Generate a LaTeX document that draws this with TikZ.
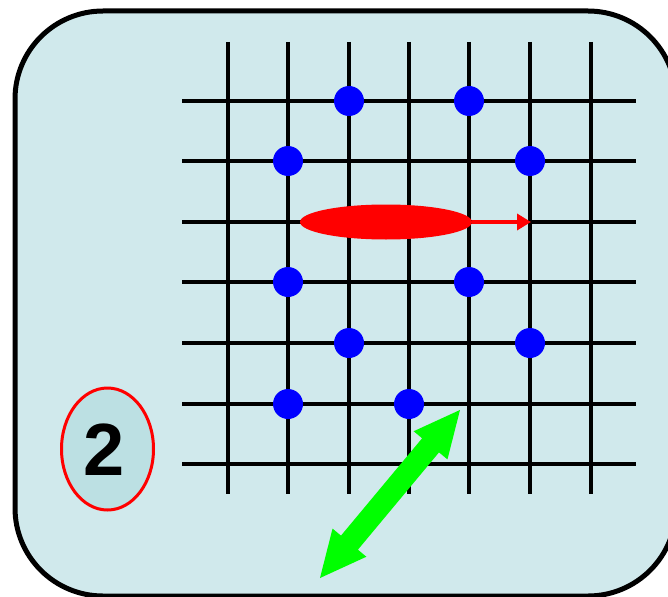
\documentclass[tikz,border=0pt]{standalone}
\usepackage{fontspec}
\setmainfont{Liberation Sans}
\usetikzlibrary{arrows.meta,shapes.geometric,calc}
\definecolor{panelbg}{HTML}{D0E9EC}
\definecolor{ovalbg}{HTML}{BCE0E3}
\definecolor{dotblue}{HTML}{0000FF}
\definecolor{arrgreen}{HTML}{00FF00}
\tikzset{
  gridline/.style={line width=3.2pt, black},
  dot/.style={circle, fill=dotblue, inner sep=0pt, minimum size=30pt},
  panel/.style={draw=black, line width=5pt, fill=panelbg, rounded corners=88pt},
}
\begin{document}
\begin{tikzpicture}[x=1pt,y=-1pt]
\path[use as bounding box, clip] (0,0) rectangle (668,596);
\fill[white] (0,0) rectangle (668,596);
% panel
\path[panel] (15,11) rectangle (676,596);
% grid
\foreach \i/\x in {0/228,1/288,2/349,3/409,4/469,5/530,6/591}{
  \draw[gridline] (\x,42) -- (\x,494);
}
\foreach \j/\y in {0/101,1/161,2/222,3/282,4/343,5/404,6/464}{
  \draw[gridline] (182,\y) -- (636,\y);
}
% blue dots
\node[dot] (d1) at (349,101) {};
\node[dot] (d2) at (469,101) {};
\node[dot] (d3) at (288,161) {};
\node[dot] (d4) at (530,161) {};
\node[dot] (d5) at (288,282) {};
\node[dot] (d6) at (469,282) {};
\node[dot] (d7) at (349,343) {};
\node[dot] (d8) at (530,343) {};
\node[dot] (d9) at (288,404) {};
\node[dot] (d10) at (409,404) {};
% red ellipse and arrow
\node[ellipse, fill=red, inner sep=0pt, minimum width=172pt, minimum height=35pt] (redov) at (386,222) {};
\coordinate (rtip) at (531,222);
\draw[red, line width=3.5pt, -{Triangle[length=14pt,width=16pt]}] (redov.east) -- (rtip);
% green double arrow
\coordinate (gA) at (320,578);
\coordinate (gB) at (460,410);
\begin{scope}[shift={(gA)}, rotate=50.2]
\fill[arrgreen] (0,0) -- (46,22) -- (46,11) -- (172.7,11) -- (172.7,22) -- (218.7,0)
  -- (172.7,-22) -- (172.7,-11) -- (46,-11) -- (46,-22) -- cycle;
\end{scope}
% label oval
\node[ellipse, draw=red, line width=3pt, fill=ovalbg, inner sep=0pt,
      minimum width=92pt, minimum height=122pt] (lab) at (107.5,449) {};
\node[font=\bfseries\fontsize{74}{74}\selectfont, inner sep=0pt] (labtxt) at (104,450) {2};
\end{tikzpicture}
\end{document}
